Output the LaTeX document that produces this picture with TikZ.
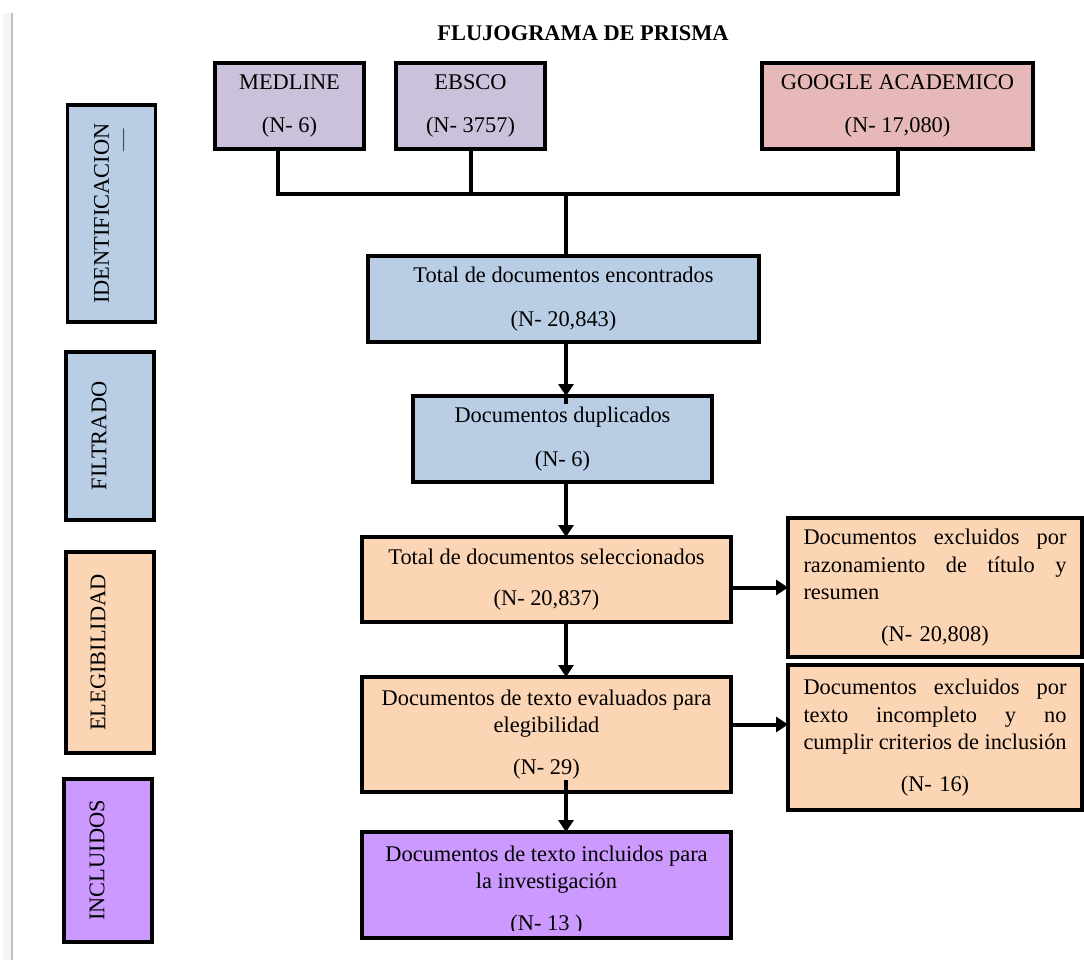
\documentclass[tikz,border=0pt]{standalone}
\usepackage{fontspec}
\setmainfont{Liberation Serif}
\usetikzlibrary{arrows.meta,calc}

\definecolor{phaseblue}{HTML}{B9CDE5}
\definecolor{dblavender}{HTML}{CCC1DA}
\definecolor{dbpink}{HTML}{E6B9B8}
\definecolor{stagepeach}{HTML}{FCD5B5}
\definecolor{stagelilac}{HTML}{CC99FF}

\newcommand{\prismafont}{\fontsize{22.4pt}{27.5pt}\selectfont}
% a fully justified line of the side boxes
\newcommand{\justline}[1]{\leavevmode\hbox to 263pt{\spaceskip=.25em plus 1fil\relax #1}}

\tikzset{
  stepbox/.style={draw, rectangle, line width=3.2pt, inner sep=0pt, outer sep=0pt,
    align=center, font=\prismafont},
  phasebox/.style={stepbox, minimum width=88pt},
  phaselabel/.style={rotate=90, font=\prismafont},
  sidebox/.style={stepbox, fill=stagepeach, minimum width=294pt, text width=263pt, align=left},
  link/.style={line width=4pt},
  flow/.style={line width=4pt, -{Triangle[length=12pt,width=15pt]}},
}

\begin{document}
\begin{tikzpicture}[x=1pt,y=-1pt]
  \fill[white] (0,0) rectangle (1084,960);
  \useasboundingbox (0,0) rectangle (1084,960);
  % page edge
  \fill[black!4] (3,13) rectangle (11,960);
  \draw[black!25, line width=1.5pt] (12,13) -- (12,960);

  \node[font=\prismafont\bfseries] (title) at (583,33) {FLUJOGRAMA DE PRISMA};

  % phases
  \node[phasebox, fill=phaseblue, minimum height=217pt] (ident) at (111.5,213.5) {};
  \node[phaselabel] (identlbl) at ([xshift=-10pt]ident.center) {IDENTIFICACION};
  \node[phaselabel, text=black!70] (identdash) at (126,140) {—};
  \node[phasebox, fill=phaseblue, minimum height=168pt] (filt) at (110,436) {};
  \node[phaselabel] (filtlbl) at ([xshift=-11pt]filt.center) {FILTRADO};
  \node[phasebox, fill=stagepeach, minimum height=201pt] (elig) at (110,652.5) {};
  \node[phaselabel] (eliglbl) at ([xshift=-12pt]elig.center) {ELEGIBILIDAD};
  \node[phasebox, fill=stagelilac, minimum height=163pt] (inclu) at (108,860.5) {};
  \node[phaselabel] (inclulbl) at ([xshift=-11pt]inclu.center) {INCLUIDOS};

  % databases
  \node[stepbox, fill=dblavender, minimum width=149pt, minimum height=86pt] (medline) at (289.5,106)
    {MEDLINE\\[15pt](N- 6)};
  \node[stepbox, fill=dblavender, minimum width=149pt, minimum height=86pt] (ebsco) at (470.5,106)
    {EBSCO\\[15pt](N- 3757)};
  \node[stepbox, fill=dbpink, minimum width=271pt, minimum height=86pt] (google) at (897.5,106)
    {GOOGLE ACADEMICO\\[15pt](N- 17,080)};

  % main column
  \node[stepbox, fill=phaseblue, minimum width=391pt, minimum height=86pt] (total) at (563.5,299)
    {Total de documentos encontrados\\[16pt](N- 20,843)};
  \node[stepbox, fill=phaseblue, minimum width=299pt, minimum height=86pt] (dup) at (562.5,439)
    {Documentos duplicados\\[16pt](N- 6)};
  \node[stepbox, fill=stagepeach, minimum width=369pt, minimum height=85pt] (sel) at (546.5,579.5)
    {Total de documentos seleccionados\\[14pt](N- 20,837)};
  \node[stepbox, fill=stagepeach, minimum width=369pt, minimum height=115pt] (eval) at (546.5,734.5)
    {Documentos de texto evaluados para\\elegibilidad\\[14pt](N- 29)};
  \node[stepbox, fill=stagelilac, minimum width=369pt, minimum height=106pt] (incl) at (546.5,885) {};
  \begin{scope}
    \clip ([xshift=2pt]incl.north west) rectangle ([yshift=8pt]incl.south east);
    \node[font=\prismafont, align=center] (incltext) at (546.5,890.5)
      {Documentos de texto incluidos para\\la investigación\\[14pt](N- 13 )};
  \end{scope}

  % exclusions
  \node[sidebox, minimum height=139pt] (excl1) at (935,587.5)
    {\justline{Documentos excluidos por}\\
     \justline{razonamiento de título y}\\
     resumen\\[14pt]
     \makebox[263pt]{(N- 20,808)}};
  \node[sidebox, minimum height=145pt] (excl2) at (935,737.5)
    {\justline{Documentos excluidos por}\\
     \justline{texto incompleto y no}\\
     \justline{cumplir criterios de inclusión}\\[14pt]
     \makebox[263pt]{(N- 16)}};

  % connectors
  \coordinate (join) at (566,194);
  \draw[link] ([xshift=-12pt]medline.south) |- (join) -| (google.south);
  \draw[link] (ebsco.south) -- (ebsco.south |- join);
  \draw[link] (join) -- (join |- total.north);
  \draw[flow] (join |- total.south) -- (join |- dup.north);
  \draw[link] (join |- dup.north) -- ++(0,8);
  \draw[flow] (join |- dup.south) -- (join |- sel.north);
  \draw[flow] (join |- sel.south) -- (join |- eval.north);
  \draw[flow] ([yshift=12pt]join |- eval.south) -- (join |- incl.north);
  \draw[flow] (sel.east |- excl1.west) -- (excl1.west);
  \draw[flow] ([yshift=10pt]eval.east) -- ([yshift=10pt]eval.east -| excl2.west);
\end{tikzpicture}
\end{document}
